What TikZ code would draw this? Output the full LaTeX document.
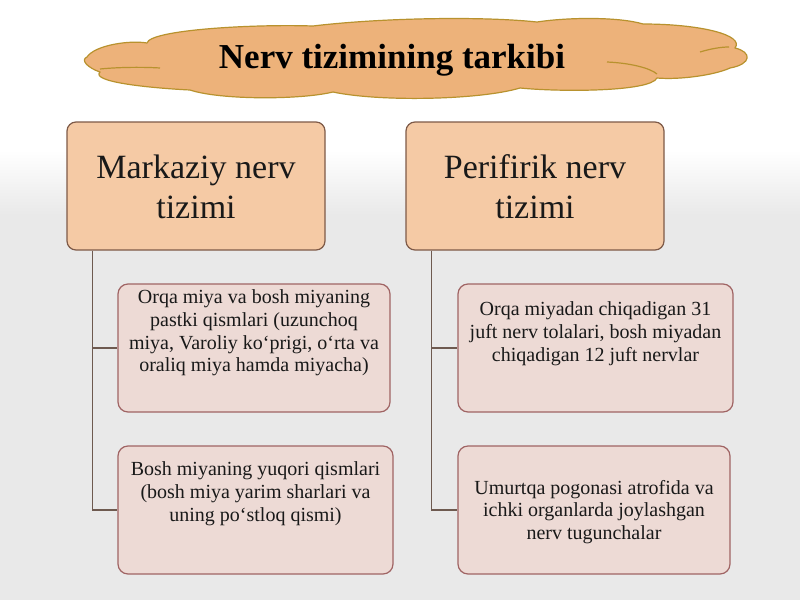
\documentclass[tikz,border=0pt]{standalone}
\usepackage{fontspec}
\setmainfont{Liberation Serif}
\definecolor{cloudfill}{HTML}{EDB27A}
\definecolor{clouddraw}{HTML}{B8922E}
\definecolor{topfill}{HTML}{F5CAA5}
\definecolor{topdraw}{HTML}{7E5A48}
\definecolor{subfill}{HTML}{EDDAD5}
\definecolor{subdraw}{HTML}{A06464}
\definecolor{linecol}{HTML}{6E5A50}
\definecolor{bggray}{HTML}{E9E9E9}
\tikzset{
  topbox/.style={draw=topdraw, line width=1.2pt, fill=topfill, rounded corners=9pt,
    minimum width=258pt, minimum height=128pt, inner sep=0pt},
  subbox/.style={draw=subdraw, line width=1.2pt, fill=subfill, rounded corners=10pt,
    minimum height=128pt, inner sep=0pt},
  toptext/.style={align=center, font=\fontsize{34}{40}\selectfont, text=black!90},
  subtext/.style={align=center, font=\fontsize{20}{22.8}\selectfont, text=black!90},
  conn/.style={draw=linecol, line width=1.1pt},
  cloudline/.style={draw=clouddraw, line width=1.2pt},
}
\begin{document}
\begin{tikzpicture}[x=1pt,y=-1pt]
\useasboundingbox (0,0) rectangle (800,600);
\fill[white] (0,0) rectangle (800,600);
\shade[top color=white, bottom color=bggray] (0,150) rectangle (800,215);
\fill[bggray] (0,214.5) rectangle (800,600);
% cloud
\path[cloudline, fill=cloudfill, line join=round]
  (87,57) .. controls (95,45) and (130,40) .. (147,43)
  .. controls (150,30) and (250,24) .. (313,26)
  .. controls (380,18) and (480,16) .. (537,22)
  .. controls (570,17) and (620,17) .. (643,24)
  .. controls (700,24) and (745,35) .. (735,48)
  .. controls (752,52) and (752,64) .. (730,68)
  .. controls (715,75) and (680,80) .. (657,78)
  .. controls (650,92) and (560,92) .. (520,88)
  .. controls (480,100) and (380,102) .. (333,92)
  .. controls (300,100) and (220,100) .. (190,90)
  .. controls (150,88) and (90,82) .. (100,72)
  .. controls (88,68) and (80,60) .. (87,57) -- cycle;
\draw[cloudline] (100,69) .. controls (120,67) and (145,67) .. (160,68);
\draw[cloudline] (607,62) .. controls (630,63) and (650,68) .. (657,74);
\draw[cloudline] (700,52) .. controls (710,49) and (720,47) .. (729,47);
\node[font=\fontsize{35}{40}\selectfont\bfseries, text=black] (title) at (392,60) {Nerv tizimining tarkibi};

\node[topbox] (TL) at (196,186) {};
\node[toptext] (TLt) at (196,187) {Markaziy nerv\\tizimi};
\node[topbox] (TR) at (535,186) {};
\node[toptext] (TRt) at (535,187) {Perifirik nerv\\tizimi};

\node[subbox, minimum width=272pt] (L1) at (254,348) {};
\node[subtext] (L1t) at (254,333) {Orqa miya va bosh miyaning\\pastki qismlari (uzunchoq\\miya, Varoliy ko‘prigi, o‘rta va\\oraliq miya hamda miyacha)};
\node[subbox, minimum width=275pt] (L2) at (255.5,510) {};
\node[subtext] (L2t) at (255.5,494) {Bosh miyaning yuqori qismlari\\(bosh miya yarim sharlari va\\uning po‘stloq qismi)};

\node[subbox, minimum width=275pt] (R1) at (595.5,348) {};
\node[subtext] (R1t) at (595.5,334) {Orqa miyadan chiqadigan 31\\juft nerv tolalari, bosh miyadan\\chiqadigan 12 juft nervlar};
\node[subbox, minimum width=272pt] (R2) at (594,510) {};
\node[subtext] (R2t) at (594,512) {Umurtqa pogonasi atrofida va\\ichki organlarda joylashgan\\nerv tugunchalar};

\coordinate (TLj) at ([xshift=26pt]TL.south west);
\coordinate (TRj) at ([xshift=26pt]TR.south west);
\draw[conn] (TLj) |- (L1.west);
\draw[conn] (TLj) |- (L2.west);
\draw[conn] (TRj) |- (R1.west);
\draw[conn] (TRj) |- (R2.west);
\end{tikzpicture}
\end{document}
